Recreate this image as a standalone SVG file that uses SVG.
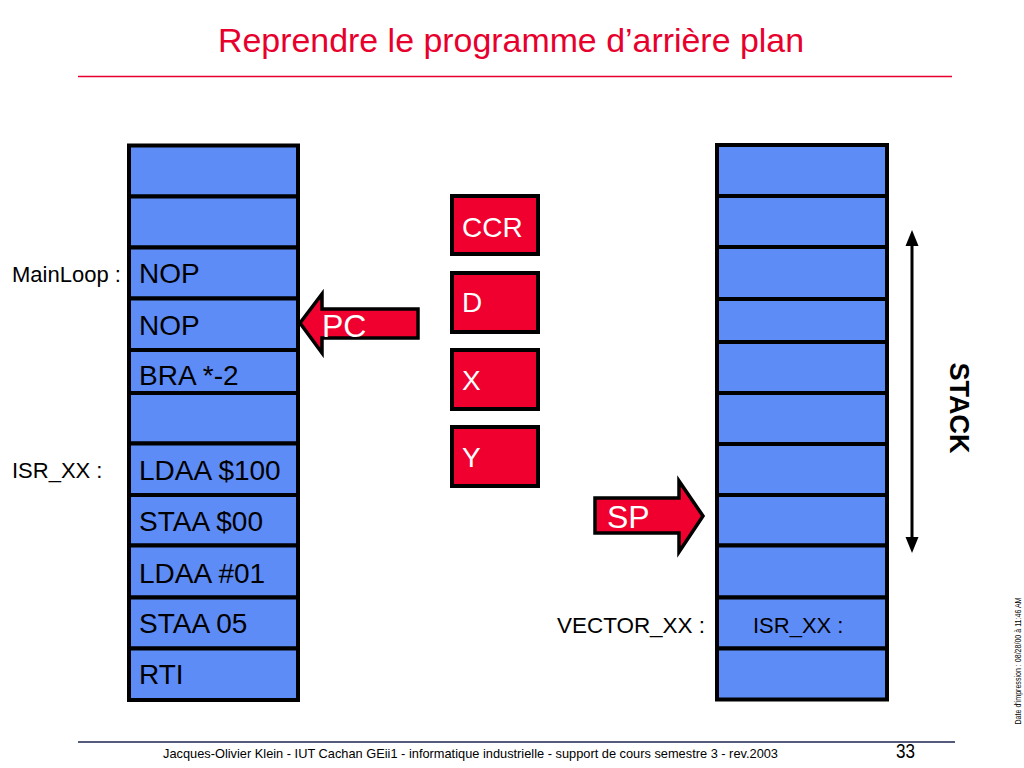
<svg xmlns="http://www.w3.org/2000/svg" width="1024" height="768" viewBox="0 0 1024 768">
<style>
.cell{fill:#5e8cf7;stroke:#000;stroke-width:4}
.reg{fill:#f0002e;stroke:#000;stroke-width:4}
.arr{fill:#f0002e;stroke:#000;stroke-width:3.5;stroke-linejoin:miter}
.t{font-family:"Liberation Sans",Arial,sans-serif;fill:#000}
.code{font-size:28px}
.lbl{font-size:22px}
.w{font-family:"Liberation Sans",Arial,sans-serif;fill:#fff}
</style>
<rect width="1024" height="768" fill="#fff"/>
<g id="title">
<text x="218" y="52" font-family="Liberation Sans, Arial, sans-serif" font-size="34" fill="#e8002d" textLength="586" lengthAdjust="spacingAndGlyphs">Reprendre le programme d’arrière plan</text>
<line x1="78" y1="76.5" x2="952" y2="76.5" stroke="#e8002d" stroke-width="1.5"/>
</g>
<g id="memory">
<rect class="cell" x="129" y="145.5" width="169" height="51"/>
<rect class="cell" x="129" y="196.5" width="169" height="51"/>
<g id="mem-nop1"><rect class="cell" x="129" y="247.5" width="169" height="51"/><text class="t code" x="139" y="283">NOP</text></g>
<g id="mem-nop2"><rect class="cell" x="129" y="298.5" width="169" height="51.5"/><text class="t code" x="139" y="335">NOP</text></g>
<g id="mem-bra"><rect class="cell" x="129" y="350" width="169" height="43"/><text class="t code" x="139" y="385">BRA *-2</text></g>
<rect class="cell" x="129" y="393" width="169" height="50.5"/>
<g id="mem-ldaa1"><rect class="cell" x="129" y="443.5" width="169" height="51.5"/><text class="t code" x="139" y="480">LDAA $100</text></g>
<g id="mem-staa1"><rect class="cell" x="129" y="495" width="169" height="50.5"/><text class="t code" x="139" y="531">STAA $00</text></g>
<g id="mem-ldaa2"><rect class="cell" x="129" y="545.5" width="169" height="52"/><text class="t code" x="139" y="583">LDAA #01</text></g>
<g id="mem-staa2"><rect class="cell" x="129" y="597.5" width="169" height="51"/><text class="t code" x="139" y="633">STAA 05</text></g>
<g id="mem-rti"><rect class="cell" x="129" y="648.5" width="169" height="51.5"/><text class="t code" x="139" y="684">RTI</text></g>
</g>
<g id="label-mainloop"><text class="t lbl" x="12" y="282">MainLoop :</text></g>
<g id="label-isr"><text class="t lbl" x="12" y="478">ISR_XX :</text></g>
<g id="pc">
<polygon class="arr" points="300,323 322,294 322,309 418,309 418,338 322,338 322,353"/>
<text class="w" x="322" y="337" font-size="32">PC</text>
</g>
<g id="reg-ccr"><rect class="reg" x="452" y="196" width="86" height="58"/><text class="w" x="462" y="237" font-size="28">CCR</text></g>
<g id="reg-d"><rect class="reg" x="452" y="273" width="86" height="59"/><text class="w" x="462" y="312" font-size="28">D</text></g>
<g id="reg-x"><rect class="reg" x="452" y="350" width="86" height="59"/><text class="w" x="462" y="390" font-size="28">X</text></g>
<g id="reg-y"><rect class="reg" x="452" y="427" width="86" height="59"/><text class="w" x="462" y="467" font-size="28">Y</text></g>
<g id="sp">
<polygon class="arr" points="595,498 679,498 679,481 703,516 679,552 679,533 595,533"/>
<text class="w" x="607" y="528" font-size="32">SP</text>
</g>
<g id="stack">
<rect class="cell" x="717" y="145" width="170" height="51"/>
<rect class="cell" x="717" y="196" width="170" height="51"/>
<rect class="cell" x="717" y="247" width="170" height="52"/>
<rect class="cell" x="717" y="299" width="170" height="43"/>
<rect class="cell" x="717" y="342" width="170" height="51"/>
<rect class="cell" x="717" y="393" width="170" height="51"/>
<rect class="cell" x="717" y="444" width="170" height="51"/>
<rect class="cell" x="717" y="495" width="170" height="50.5"/>
<rect class="cell" x="717" y="545.5" width="170" height="52"/>
<g id="stack-vector"><rect class="cell" x="717" y="597.5" width="170" height="51"/><text class="t lbl" x="753" y="633">ISR_XX :</text></g>
<rect class="cell" x="717" y="648.5" width="170" height="51"/>
</g>
<g id="label-vector"><text class="t lbl" x="557" y="633" textLength="148" lengthAdjust="spacingAndGlyphs">VECTOR_XX :</text></g>
<g id="connectors">
<line x1="912" y1="242" x2="912" y2="541" stroke="#000" stroke-width="3"/>
<polygon points="912,230 905.5,246 918.5,246" fill="#000"/>
<polygon points="912,553 905.5,537 918.5,537" fill="#000"/>
</g>
<g id="label-stack"><text transform="translate(950,408) rotate(90)" text-anchor="middle" font-family="Liberation Sans, Arial, sans-serif" font-weight="bold" font-size="27" fill="#000">STACK</text></g>
<g id="side-date"><text transform="translate(1021,661) rotate(-90)" text-anchor="middle" font-family="Liberation Sans, Arial, sans-serif" font-size="9" fill="#000" textLength="127" lengthAdjust="spacingAndGlyphs">Date d'impression : 08/28/00 à 11:46 AM</text></g>
<g id="footer">
<line x1="78" y1="742" x2="955" y2="742" stroke="#1c2452" stroke-width="1.5"/>
<text x="163" y="758" font-family="Liberation Sans, Arial, sans-serif" font-size="13" fill="#000" textLength="615" lengthAdjust="spacingAndGlyphs">Jacques-Olivier Klein - IUT Cachan GEii1 - informatique industrielle - support de cours semestre 3 - rev.2003</text>
<text x="896" y="758" font-family="Liberation Sans, Arial, sans-serif" font-size="20" fill="#000" textLength="19" lengthAdjust="spacingAndGlyphs">33</text>
</g>
</svg>
